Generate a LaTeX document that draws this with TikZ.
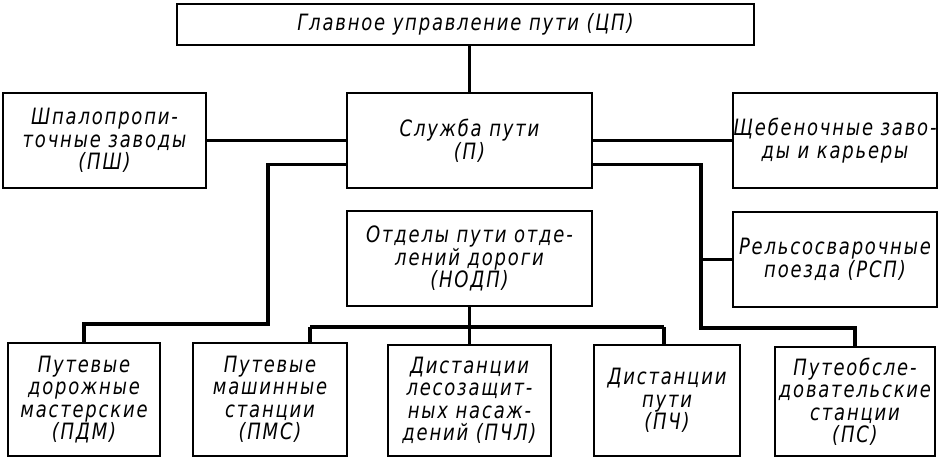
\documentclass[tikz,border=0pt]{standalone}
\usepackage{fontspec}
\newfontfamily\drawfont{DejaVu Sans}[FakeStretch=0.8,LetterSpace=8]
\usetikzlibrary{calc}

\begin{document}
\begin{tikzpicture}[x=0.025cm,y=-0.025cm,
    box/.style={draw,line width=2pt,align=center,inner sep=0pt,
      font=\drawfont\itshape\fontsize{16}{16}\selectfont},
    link/.style={line width=2.6pt}]
  \useasboundingbox (0,0) rectangle (942,468);

  %top and second row
  \node[box,minimum width=14.425cm,minimum height=1.025cm] (glav) at (465.5,24.5) {Главное управление пути (ЦП)};
  \node[box,minimum width=5.075cm,minimum height=2.375cm] (shp) at (104.5,140.5) {Шпалопропи-\\точные заводы\\(ПШ)};
  \node[box,minimum width=6.125cm,minimum height=2.375cm] (sl) at (469.5,140.5) {Служба пути\\(П)};
  \node[box,minimum width=5.1cm,minimum height=2.375cm] (shch) at (835,140.5) {Щебеночные заво-\\ды и карьеры};
  \node[box,minimum width=6.125cm,minimum height=2.375cm] (otd) at (469.5,258.5) {Отделы пути отде-\\лений дороги\\(НОДП)};
  \node[box,minimum width=5.1cm,minimum height=2.375cm] (rel) at (835,259.5) {Рельсосварочные\\поезда (РСП)};

  %bottom row
  \node[box,minimum width=3.8cm,minimum height=2.825cm] (pdm) at (84,399.5) {Путевые\\дорожные\\мастерские\\(ПДМ)};
  \node[box,minimum width=3.85cm,minimum height=2.825cm] (pms) at (270,399.5) {Путевые\\машинные\\станции\\(ПМС)};
  \node[box,minimum width=4.075cm,minimum height=2.775cm] (pchl) at (469.5,400.5) {Дистанции\\лесозащит-\\ных насаж-\\дений (ПЧЛ)};
  \node[box,minimum width=3.65cm,minimum height=2.775cm] (pch) at (667,400.5) {Дистанции\\пути\\(ПЧ)};
  \node[box,minimum width=4cm,minimum height=2.725cm] (ps) at (855,401.5) {Путеобсле-\\довательские\\станции\\(ПС)};

  %bus points
  \coordinate (busL) at (268,324);
  \coordinate (busR) at (701,328);
  \coordinate (m2) at (310,327);
  \coordinate (m4) at (664,327);

  \draw[link] (sl.north) -- (sl.north |- glav.south);
  \draw[link] (shp) -- (sl);
  \draw[link] (sl) -- (shch);
  \draw[link] ([yshift=-0.6cm]sl.west) -| (busL) -| (pdm.north);
  \draw[link] ([yshift=-0.6cm]sl.east) -| (busR) -| (ps.north);
  \draw[link] (rel.west) -- (rel.west -| busR);
  \draw[link] (otd.south) -- (pchl.north);
  \draw[link] (m2) -- (m4);
  \draw[link] (m2) -- (m2 |- pms.north);
  \draw[link] (m4) -- (m4 |- pch.north);
\end{tikzpicture}
\end{document}
